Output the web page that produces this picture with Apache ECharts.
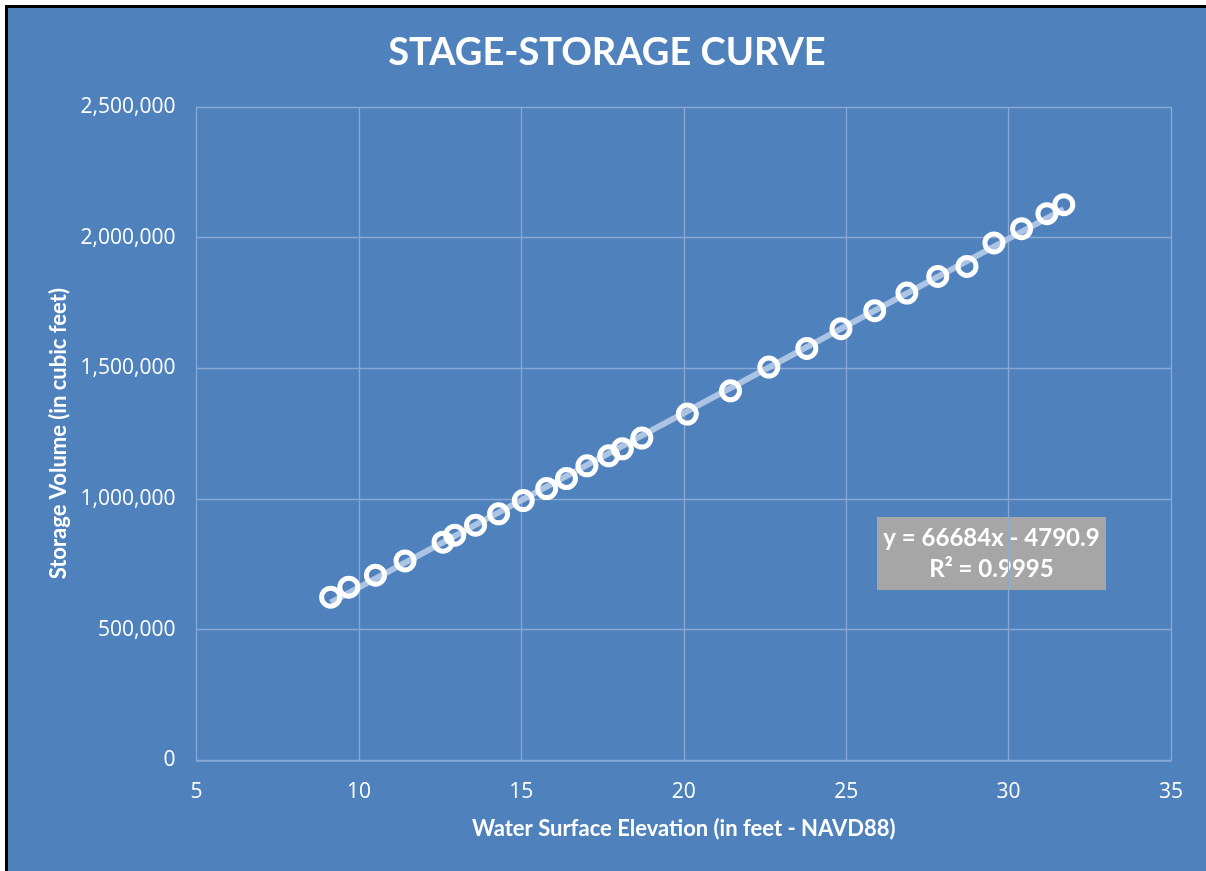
<!DOCTYPE html>
<html>
<head>
<meta charset="utf-8">
<script src="https://cdn.jsdelivr.net/npm/echarts@6/dist/echarts.min.js"></script>
<style>
  html, body { margin: 0; padding: 0; background: #ffffff; width: 1206px; height: 871px; overflow: hidden; }
  #frame { position: absolute; left: 5px; top: 5px; width: 1210px; height: 875px; border-left: 3px solid #000; border-top: 3px solid #000; background: #4f81bd; }
  #chart { width: 1198px; height: 863px; }
</style>
</head>
<body>
<div id="frame"><div id="chart"></div></div>
<script>
// Water surface elevation (ft, NAVD88)
const elevation = [9.13, 9.69, 10.51, 11.42, 12.59, 12.95, 13.59, 14.30, 15.06, 15.78,
  16.39, 17.02, 17.69, 18.11, 18.71, 20.11, 21.44, 22.62, 23.79, 24.84,
  25.88, 26.87, 27.82, 28.72, 29.55, 30.40, 31.18, 31.70];
// Storage volume (cubic feet)
const storage = [624400, 662700, 708700, 763400, 835000, 861800, 900100, 943300, 994300, 1040200,
  1078500, 1127100, 1165400, 1192200, 1233200, 1325100, 1414300, 1505000, 1576200, 1651600,
  1720500, 1788300, 1851900, 1890100, 1979700, 2034500, 2091900, 2126400];
// Linear trendline shown on the chart
const trendSlope = 66684;
const trendIntercept = -4790.9;
const trendLabel = ['y = 66684x - 4790.9', 'R² = 0.9995'];
const xTicks = [5, 10, 15, 20, 25, 30, 35];
const yTicks = [0, 500000, 1000000, 1500000, 2000000, 2500000];

const points = elevation.map((x, i) => [x, storage[i]]);
const xMinData = Math.min(...elevation), xMaxData = Math.max(...elevation);
const trendData = [[xMinData, trendSlope * xMinData + trendIntercept], [xMaxData, trendSlope * xMaxData + trendIntercept]];

const gridColor = '#8aa8d4';
const chart = echarts.init(document.getElementById('chart'));
chart.setOption({
  backgroundColor: 'transparent',
  animation: false,
  title: {
    text: 'STAGE-STORAGE CURVE',
    left: 'center',
    top: 21,
    textStyle: { color: '#ffffff', fontFamily: 'Lato', fontWeight: 'bold', fontSize: 38 }
  },
  grid: { left: 188.5, right: 35, top: 99, bottom: 110.6, containLabel: false },
  xAxis: {
    type: 'value',
    min: xTicks[0], max: xTicks[xTicks.length - 1], interval: 5,
    name: 'Water Surface Elevation (in feet - NAVD88)',
    nameLocation: 'middle', nameGap: 58,
    nameTextStyle: { color: '#ffffff', fontFamily: 'Lato', fontWeight: 'bold', fontSize: 22 },
    axisLine: { show: true, lineStyle: { color: gridColor, width: 1.5 } },
    axisTick: { show: false },
    axisLabel: { color: '#ffffff', fontFamily: 'Open Sans', fontSize: 21, margin: 21 },
    splitLine: { show: true, lineStyle: { color: gridColor, width: 1.3 } }
  },
  yAxis: {
    type: 'value',
    min: yTicks[0], max: yTicks[yTicks.length - 1], interval: 500000,
    name: 'Storage Volume (in cubic feet)',
    nameLocation: 'middle', nameGap: 127, nameRotate: 90,
    nameTextStyle: { color: '#ffffff', fontFamily: 'Lato', fontWeight: 'bold', fontSize: 22 },
    axisLine: { show: false },
    axisTick: { show: false },
    axisLabel: {
      color: '#ffffff', fontFamily: 'Open Sans', fontSize: 21, margin: 21,
      formatter: v => v.toLocaleString('en-US')
    },
    splitLine: { show: true, lineStyle: { color: gridColor, width: 1.3 } }
  },
  series: [
    {
      type: 'line',
      data: trendData,
      symbol: 'none',
      lineStyle: { color: '#abc4e4', width: 6 },
      z: 2,
      silent: true
    },
    {
      type: 'scatter',
      data: points,
      symbol: 'circle',
      symbolSize: 18,
      itemStyle: { color: 'rgba(0,0,0,0)', borderColor: '#ffffff', borderWidth: 5, opacity: 1 },
      z: 3
    }
  ],
  graphic: [
    {
      type: 'group',
      left: 869, top: 509,
      children: [
        { type: 'rect', shape: { x: 0, y: 0, width: 229, height: 73 }, style: { fill: '#a6a6a6' } },
        { type: 'text', x: 114.5, y: 9, style: { text: trendLabel[0], fill: '#ffffff', font: 'bold 24px Lato', align: 'center', verticalAlign: 'top' } },
        { type: 'text', x: 114.5, y: 40, style: { text: trendLabel[1], fill: '#ffffff', font: 'bold 24px Lato', align: 'center', verticalAlign: 'top' } }
      ]
    }
  ]
});
</script>
</body>
</html>
